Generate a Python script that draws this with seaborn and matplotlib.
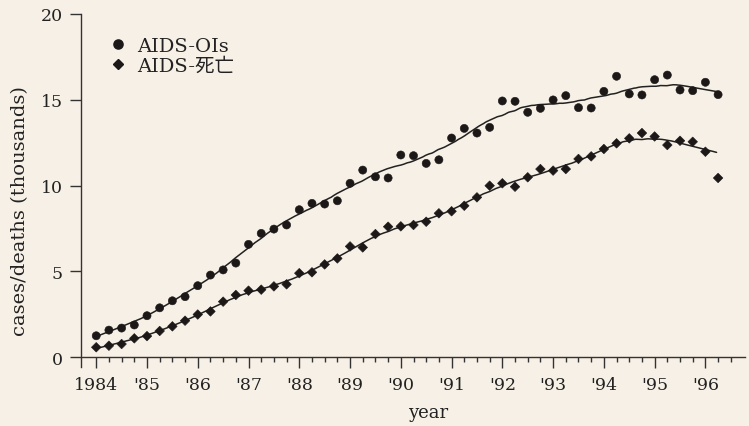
import numpy as np
import pandas as pd
import matplotlib
matplotlib.use("Agg")
import matplotlib.pyplot as plt
from matplotlib.ticker import FixedLocator
from matplotlib.lines import Line2D
import seaborn as sns

# Quarterly counts (thousands), 1984 Q1 .. 1996 Q2
years = 1984 + 0.25 * np.arange(50)
ois_cases = [1.24, 1.57, 1.69, 1.87, 2.41, 2.87, 3.28, 3.52, 4.16, 4.78,
             5.08, 5.48, 6.57, 7.21, 7.46, 7.70, 8.59, 8.96, 8.92, 9.11,
             10.13, 10.90, 10.51, 10.44, 11.78, 11.74, 11.29, 11.50, 12.77, 13.33,
             13.06, 13.39, 14.93, 14.91, 14.27, 14.50, 14.99, 15.24, 14.54, 14.52,
             15.49, 16.37, 15.34, 15.28, 16.17, 16.44, 15.57, 15.53, 16.02, 15.30]
deaths = [0.57, 0.66, 0.76, 1.09, 1.22, 1.52, 1.79, 2.12, 2.48, 2.66,
          3.23, 3.62, 3.87, 3.93, 4.12, 4.24, 4.89, 4.94, 5.40, 5.75,
          6.45, 6.39, 7.17, 7.60, 7.62, 7.70, 7.89, 8.38, 8.50, 8.82,
          9.31, 9.99, 10.13, 9.93, 10.48, 10.96, 10.87, 10.96, 11.55, 11.70,
          12.13, 12.46, 12.75, 13.06, 12.86, 12.36, 12.61, 12.55, 11.97, 10.44]
series_names = ["AIDS-OIs", "AIDS-死亡"]
year_ticks = list(range(1984, 1997))
year_labels = ["1984"] + ["'%02d" % (y % 100) for y in range(1985, 1997)]

BG = "#f7f0e6"
INK = "#1c1818"


def _local_linear(x0, x, y, w_extra, r):
    d = np.abs(x - x0)
    h = np.sort(d)[r - 1] * 1.0001 + 1e-9
    w = np.clip(1 - (d / h) ** 3, 0, None) ** 3 * w_extra
    sw = w.sum()
    xm = (w * x).sum() / sw
    ym = (w * y).sum() / sw
    sxx = (w * (x - xm) ** 2).sum()
    b = (w * (x - xm) * (y - ym)).sum() / sxx if sxx > 0 else 0.0
    return ym + b * (x0 - xm)


def lowess_curve(x, y, grid, frac=0.14, iters=2):
    x = np.asarray(x, float)
    y = np.asarray(y, float)
    r = max(3, int(np.ceil(frac * len(x))))
    rob = np.ones_like(x)
    for _ in range(iters):
        fit = np.array([_local_linear(xi, x, y, rob, r) for xi in x])
        res = y - fit
        s = np.median(np.abs(res))
        u = res / (6 * s)
        rob = np.where(np.abs(u) < 1, (1 - u ** 2) ** 2, 0.0)
    return np.array([_local_linear(g, x, y, rob, r) for g in grid])


points = pd.DataFrame({
    "year": np.concatenate([years, years]),
    "value": np.concatenate([ois_cases, deaths]),
    "series": [series_names[0]] * len(years) + [series_names[1]] * len(years),
})

grid = np.linspace(years[0], years[-1] - 0.03, 400)
curves = pd.concat([
    pd.DataFrame({"year": grid, "value": lowess_curve(years, vals, grid), "series": name})
    for name, vals in zip(series_names, [ois_cases, deaths])
])

sns.set_theme(style="ticks")
plt.rcParams["font.family"] = ["DejaVu Serif", "Noto Sans CJK JP"]
plt.rcParams["axes.unicode_minus"] = False

fig = plt.figure(figsize=(7.49, 4.27), dpi=100, facecolor=BG)
ax = fig.add_axes([81 / 749, 1 - 368 / 427, 664 / 749, 353 / 427])
ax.set_facecolor(BG)

sns.lineplot(data=curves, x="year", y="value", units="series", estimator=None,
             color="#222222", lw=1.1, ax=ax, legend=False)
sns.scatterplot(data=points, x="year", y="value", style="series",
                markers={series_names[0]: "o", series_names[1]: "D"},
                size="series", sizes={series_names[0]: 34, series_names[1]: 24},
                color=INK, edgecolor=INK, linewidth=0.4, ax=ax, legend=False, zorder=3)

ax.set_xlim(1983.70, 1996.78)
ax.set_ylim(-0.58, 20)
ax.spines["bottom"].set_position(("data", 0))
for side in ("top", "right"):
    ax.spines[side].set_visible(False)
for side in ("left", "bottom"):
    ax.spines[side].set_color("#333333")
    ax.spines[side].set_linewidth(1.0)

ax.set_xticks(year_ticks)
ax.set_xticklabels(year_labels)
ax.xaxis.set_minor_locator(FixedLocator([t for t in np.arange(1984, 1996.51, 0.25) if t % 1]))
ax.set_yticks([0, 5, 10, 15, 20])
ax.tick_params(axis="both", which="major", direction="out", length=8, width=1.0,
               color="#333333", labelsize=12.5, labelcolor="#222222", pad=5)
ax.tick_params(axis="x", which="minor", direction="out", length=3.8, width=1.0, color="#333333")
ax.tick_params(axis="x", which="major", pad=6)

ax.set_xlabel("year", fontsize=13, color="#222222")
ax.xaxis.label.set_va("center")
ax.xaxis.set_label_coords((428 - 81) / 664, (368 - 413) / 353)
ax.set_ylabel("cases/deaths (thousands)", fontsize=14, color="#222222")
ax.yaxis.label.set_va("center")
ax.yaxis.set_label_coords((20 - 81) / 664, (368 - 211) / 353)

handles = [
    Line2D([], [], ls="none", marker="o", ms=6.6, color=INK),
    Line2D([], [], ls="none", marker="D", ms=5.0, color=INK),
]
ax.legend(handles, series_names, loc="upper left",
          bbox_to_anchor=((110 - 81) / 664, (368 - 38) / 353),
          frameon=False, fontsize=14, handlelength=0.8, handletextpad=0.6,
          labelspacing=0.1, borderpad=0, borderaxespad=0, labelcolor="#222222")

fig.savefig("out.png", dpi=100, facecolor=BG)
